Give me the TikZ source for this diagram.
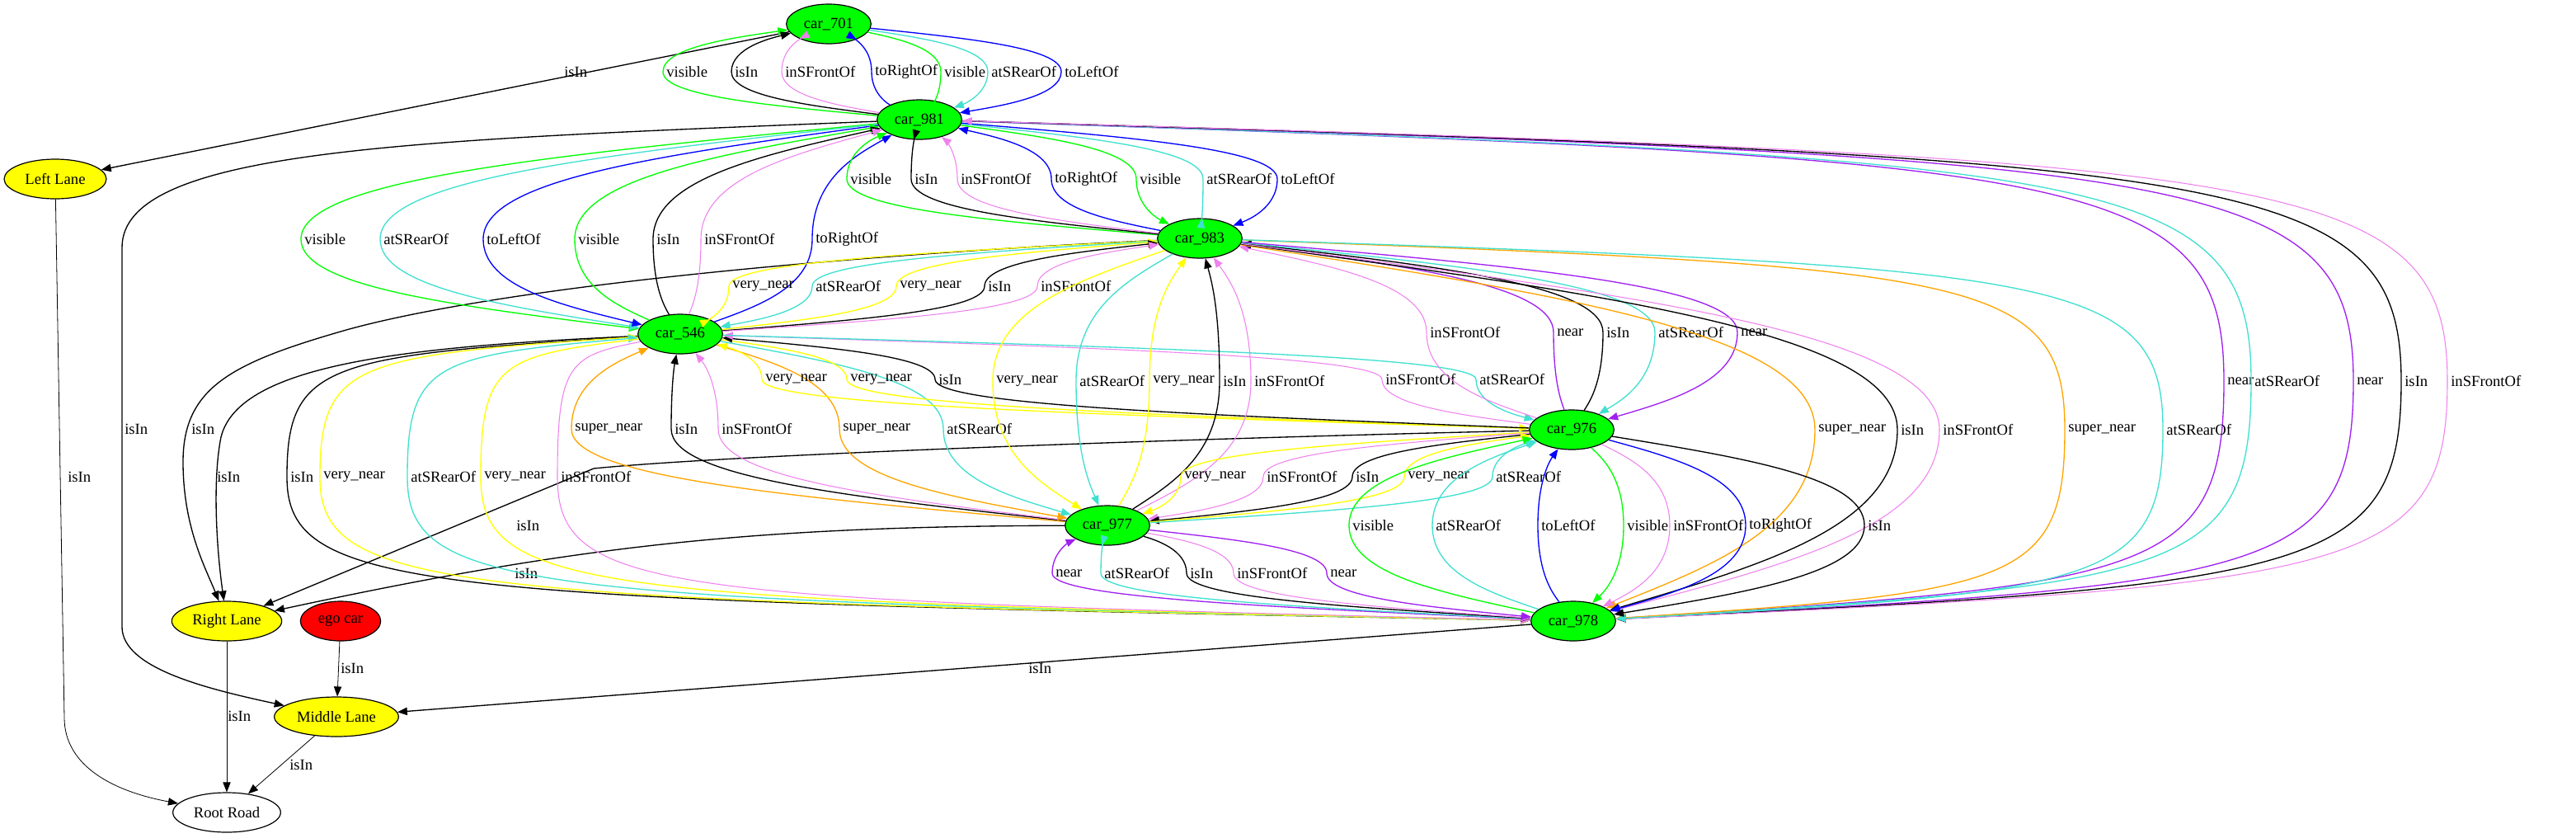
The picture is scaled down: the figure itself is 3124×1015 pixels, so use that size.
\documentclass[tikz,border=0pt]{standalone}
\usepackage{fontspec}
\setmainfont{Liberation Serif}
\usetikzlibrary{arrows.meta,calc,shapes.geometric}

\definecolor{vgreen}{HTML}{00FF00}
\definecolor{vturq}{HTML}{40E0D0}
\definecolor{vblue}{HTML}{0000FF}
\definecolor{vviolet}{HTML}{EE82EE}
\definecolor{vpurple}{HTML}{A020F0}
\definecolor{vorange}{HTML}{FFA500}
\definecolor{vyellow}{HTML}{FFFF00}
\definecolor{vred}{HTML}{FF0000}

\tikzset{
  every node/.style={font=\fontsize{14}{16}\selectfont},
  obj/.style={ellipse, draw, line width=0.9pt, minimum height=36pt, inner sep=0pt},
  car/.style={obj, fill=vgreen, minimum width=77pt},
  lane/.style={obj, fill=vyellow},
  rel/.style={line width=1pt, -{Triangle[length=9pt,width=7pt]}},
  relThin/.style={rel, line width=0.6pt},
  relIsIn/.style={black},
  relVis/.style={vgreen},
  relFront/.style={vviolet, line width=0.8pt},
  relRight/.style={vblue},
  relLeft/.style={vblue},
  relRear/.style={vturq},
  relNear/.style={vpurple},
  relVNear/.style={vyellow},
  relSNear/.style={vorange},
  lbl/.style={anchor=west, inner sep=0pt, xshift=3pt}
}

% style, from, to, label, point the edge passes through
\newcommand{\rel}[6]{%
  \coordinate (lp) at (#5,#6);
  \draw[rel,#1] (#2)
    .. controls ($(#2)!0.6!(lp|-#2)+0.3*(lp)-0.3*(lp|-#2)$) and ($(lp)!0.5!(lp|-#2)$) .. (lp)
    .. controls ($(lp)!0.5!(lp|-#3)$) and ($(#3)!0.6!(lp|-#3)+0.3*(lp)-0.3*(lp|-#3)$) .. (#3);
  \node[lbl] at (lp) {#4};
}
% same, but for the long edges that run out sideways first
\newcommand{\relbox}[6]{%
  \coordinate (lp) at (#5,#6);
  \draw[rel,#1] (#2)
    .. controls ($(#2)!0.9!(lp|-#2)+0.15*(lp)-0.15*(lp|-#2)$) and ($(lp)!0.8!(lp|-#2)$) .. (lp)
    .. controls ($(lp)!0.8!(lp|-#3)$) and ($(#3)!0.9!(lp|-#3)+0.15*(lp)-0.15*(lp|-#3)$) .. (#3);
  \node[lbl] at (lp) {#4};
}

\begin{document}
\begin{tikzpicture}[x=0.75pt,y=-0.75pt]

\useasboundingbox (0,0) rectangle (3124,1015);

% objects
\node[car] (car701) at (1005,29) {car\_701};
\node[car] (car981) at (1115,145) {car\_981};
\node[car] (car983) at (1455,289) {car\_983};
\node[car] (car546) at (825,405) {car\_546};
\node[car] (car976) at (1906,521) {car\_976};
\node[car] (car977) at (1343,637) {car\_977};
\node[car] (car978) at (1908,753) {car\_978};
\node[lane, minimum width=93pt] (leftlane) at (67,217) {Left Lane};
\node[lane, minimum width=100pt] (rightlane) at (275,753) {Right Lane};
\node[obj, fill=vred, minimum width=73pt] (egocar) at (413,753) {ego car};
\node[lane, minimum width=113pt] (midlane) at (408,869) {Middle Lane};
\node[obj, minimum width=98pt] (rootroad) at (275,985) {Root Road};

% lanes and road
\draw[rel,relIsIn] (car701) -- (leftlane);
\node[lbl] at (680,87) {isIn};
\draw[relThin] (leftlane) -- (78,870) .. controls (78,930) and (140,960) .. (rootroad);
\node[lbl] at (78,578) {isIn};
\draw[rel] (car981) .. controls (500,170) and (148,180) .. (148,300) -- (148,760)
  .. controls (148,810) and (250,835) .. (midlane);
\node[lbl] at (147,520) {isIn};
\draw[rel] (car983) .. controls (1000,310) and (600,350) .. (420,400)
  .. controls (280,440) and (222,470) .. (222,560) .. controls (222,640) and (250,690) .. (rightlane);
\node[lbl] at (228,520) {isIn};
\draw[rel] (car546) .. controls (500,420) and (290,440) .. (268,530)
  .. controls (258,580) and (262,660) .. (rightlane);
\node[lbl] at (259,578) {isIn};
\draw[rel] (car976) .. controls (1500,530) and (900,550) .. (720,568) -- (rightlane);
\node[lbl] at (622,637) {isIn};
\draw[rel] (car977) to[bend right=6] (rightlane);
\node[lbl] at (620,695) {isIn};
\draw[rel] (car978) -- (midlane);
\node[lbl] at (1243,810) {isIn};
\draw[relThin] (egocar) -- (midlane);
\node[lbl] at (409,810) {isIn};
\draw[relThin] (rightlane) -- (rootroad);
\node[lbl] at (272,868) {isIn};
\draw[relThin] (midlane) -- (rootroad);
\node[lbl] at (347,927) {isIn};

% car_701 and car_981
\rel{relVis}{car981}{car701}{visible}{804}{87}
\rel{relIsIn}{car981}{car701}{isIn}{887}{87}
\rel{relFront}{car981}{car701}{inSFrontOf}{948}{87}
\rel{relRight}{car981}{car701}{toRightOf}{1057}{87}
\rel{relVis}{car701}{car981}{visible}{1141}{87}
\rel{relRear}{car701}{car981}{atSRearOf}{1198}{87}
\rel{relLeft}{car701}{car981}{toLeftOf}{1287}{87}

% car_981 and car_546
\rel{relVis}{car981}{car546}{visible}{365}{290}
\rel{relRear}{car981}{car546}{atSRearOf}{461}{290}
\rel{relLeft}{car981}{car546}{toLeftOf}{586}{290}
\rel{relVis}{car546}{car981}{visible}{697}{290}
\rel{relIsIn}{car546}{car981}{isIn}{792}{290}
\rel{relFront}{car546}{car981}{inSFrontOf}{850}{290}
\rel{relRight}{car546}{car981}{toRightOf}{985}{290}

% car_981 and car_983
\rel{relVis}{car983}{car981}{visible}{1027}{217}
\rel{relIsIn}{car983}{car981}{isIn}{1105}{217}
\rel{relFront}{car983}{car981}{inSFrontOf}{1161}{217}
\rel{relRight}{car983}{car981}{toRightOf}{1275}{217}
\rel{relVis}{car981}{car983}{visible}{1378}{217}
\rel{relRear}{car981}{car983}{atSRearOf}{1459}{217}
\rel{relLeft}{car981}{car983}{toLeftOf}{1549}{217}

% car_981 and car_978
\relbox{relNear}{car981}{car978}{near}{2697}{462}
\relbox{relRear}{car981}{car978}{atSRearOf}{2730}{462}
\relbox{relNear}{car981}{car978}{near}{2854}{462}
\relbox{relIsIn}{car981}{car978}{isIn}{2912}{462}
\relbox{relFront}{car978}{car981}{inSFrontOf}{2968}{462}

% car_983 and car_546
\rel{relVNear}{car983}{car546}{very\_near}{884}{347}
\rel{relRear}{car983}{car546}{atSRearOf}{985}{347}
\rel{relVNear}{car546}{car983}{very\_near}{1087}{347}
\rel{relIsIn}{car546}{car983}{isIn}{1194}{347}
\rel{relFront}{car546}{car983}{inSFrontOf}{1258}{347}

% car_546 and car_977
\rel{relSNear}{car977}{car546}{super\_near}{693}{520}
\rel{relIsIn}{car977}{car546}{isIn}{814}{520}
\rel{relFront}{car977}{car546}{inSFrontOf}{871}{520}
\rel{relSNear}{car546}{car977}{super\_near}{1018}{520}
\rel{relRear}{car546}{car977}{atSRearOf}{1144}{520}

% car_546 and car_976
\rel{relVNear}{car976}{car546}{very\_near}{924}{460}
\rel{relVNear}{car546}{car976}{very\_near}{1027}{460}
\rel{relIsIn}{car976}{car546}{isIn}{1134}{460}
\rel{relFront}{car976}{car546}{inSFrontOf}{1676}{460}
\rel{relRear}{car546}{car976}{atSRearOf}{1790}{460}

% car_983 and car_977
\rel{relVNear}{car983}{car977}{very\_near}{1204}{462}
\rel{relRear}{car983}{car977}{atSRearOf}{1305}{462}
\rel{relVNear}{car977}{car983}{very\_near}{1394}{462}
\rel{relIsIn}{car977}{car983}{isIn}{1479}{462}
\rel{relFront}{car977}{car983}{inSFrontOf}{1517}{462}

% car_983 and car_976
\rel{relFront}{car976}{car983}{inSFrontOf}{1730}{403}
\rel{relNear}{car976}{car983}{near}{1884}{403}
\rel{relIsIn}{car976}{car983}{isIn}{1944}{403}
\rel{relRear}{car983}{car976}{atSRearOf}{2007}{403}
\rel{relNear}{car983}{car976}{near}{2107}{403}

% car_983 and car_978
\rel{relSNear}{car983}{car978}{super\_near}{2201}{521}
\rel{relIsIn}{car983}{car978}{isIn}{2301}{521}
\rel{relFront}{car983}{car978}{inSFrontOf}{2352}{521}
\relbox{relSNear}{car983}{car978}{super\_near}{2504}{521}
\relbox{relRear}{car983}{car978}{atSRearOf}{2623}{521}

% car_976 and car_977
\rel{relVNear}{car976}{car977}{very\_near}{1432}{578}
\rel{relFront}{car976}{car977}{inSFrontOf}{1532}{578}
\rel{relIsIn}{car976}{car977}{isIn}{1640}{578}
\rel{relVNear}{car977}{car976}{very\_near}{1703}{578}
\rel{relRear}{car977}{car976}{atSRearOf}{1810}{578}

% car_546 and car_978
\relbox{relIsIn}{car546}{car978}{isIn}{348}{578}
\relbox{relVNear}{car978}{car546}{very\_near}{388}{578}
\relbox{relRear}{car978}{car546}{atSRearOf}{494}{578}
\relbox{relVNear}{car546}{car978}{very\_near}{583}{578}
\relbox{relFront}{car546}{car978}{inSFrontOf}{676}{578}

% car_976 and car_978
\rel{relVis}{car978}{car976}{visible}{1636}{637}
\rel{relRear}{car978}{car976}{atSRearOf}{1737}{637}
\rel{relLeft}{car978}{car976}{toLeftOf}{1865}{637}
\rel{relVis}{car976}{car978}{visible}{1969}{637}
\rel{relFront}{car976}{car978}{inSFrontOf}{2025}{637}
\rel{relRight}{car976}{car978}{toRightOf}{2117}{637}
\rel{relIsIn}{car976}{car978}{isIn}{2261}{637}

% car_977 and car_978
\rel{relNear}{car978}{car977}{near}{1276}{695}
\rel{relRear}{car978}{car977}{atSRearOf}{1335}{695}
\rel{relIsIn}{car977}{car978}{isIn}{1439}{695}
\rel{relFront}{car977}{car978}{inSFrontOf}{1496}{695}
\rel{relNear}{car977}{car978}{near}{1609}{695}

\end{tikzpicture}
\end{document}
